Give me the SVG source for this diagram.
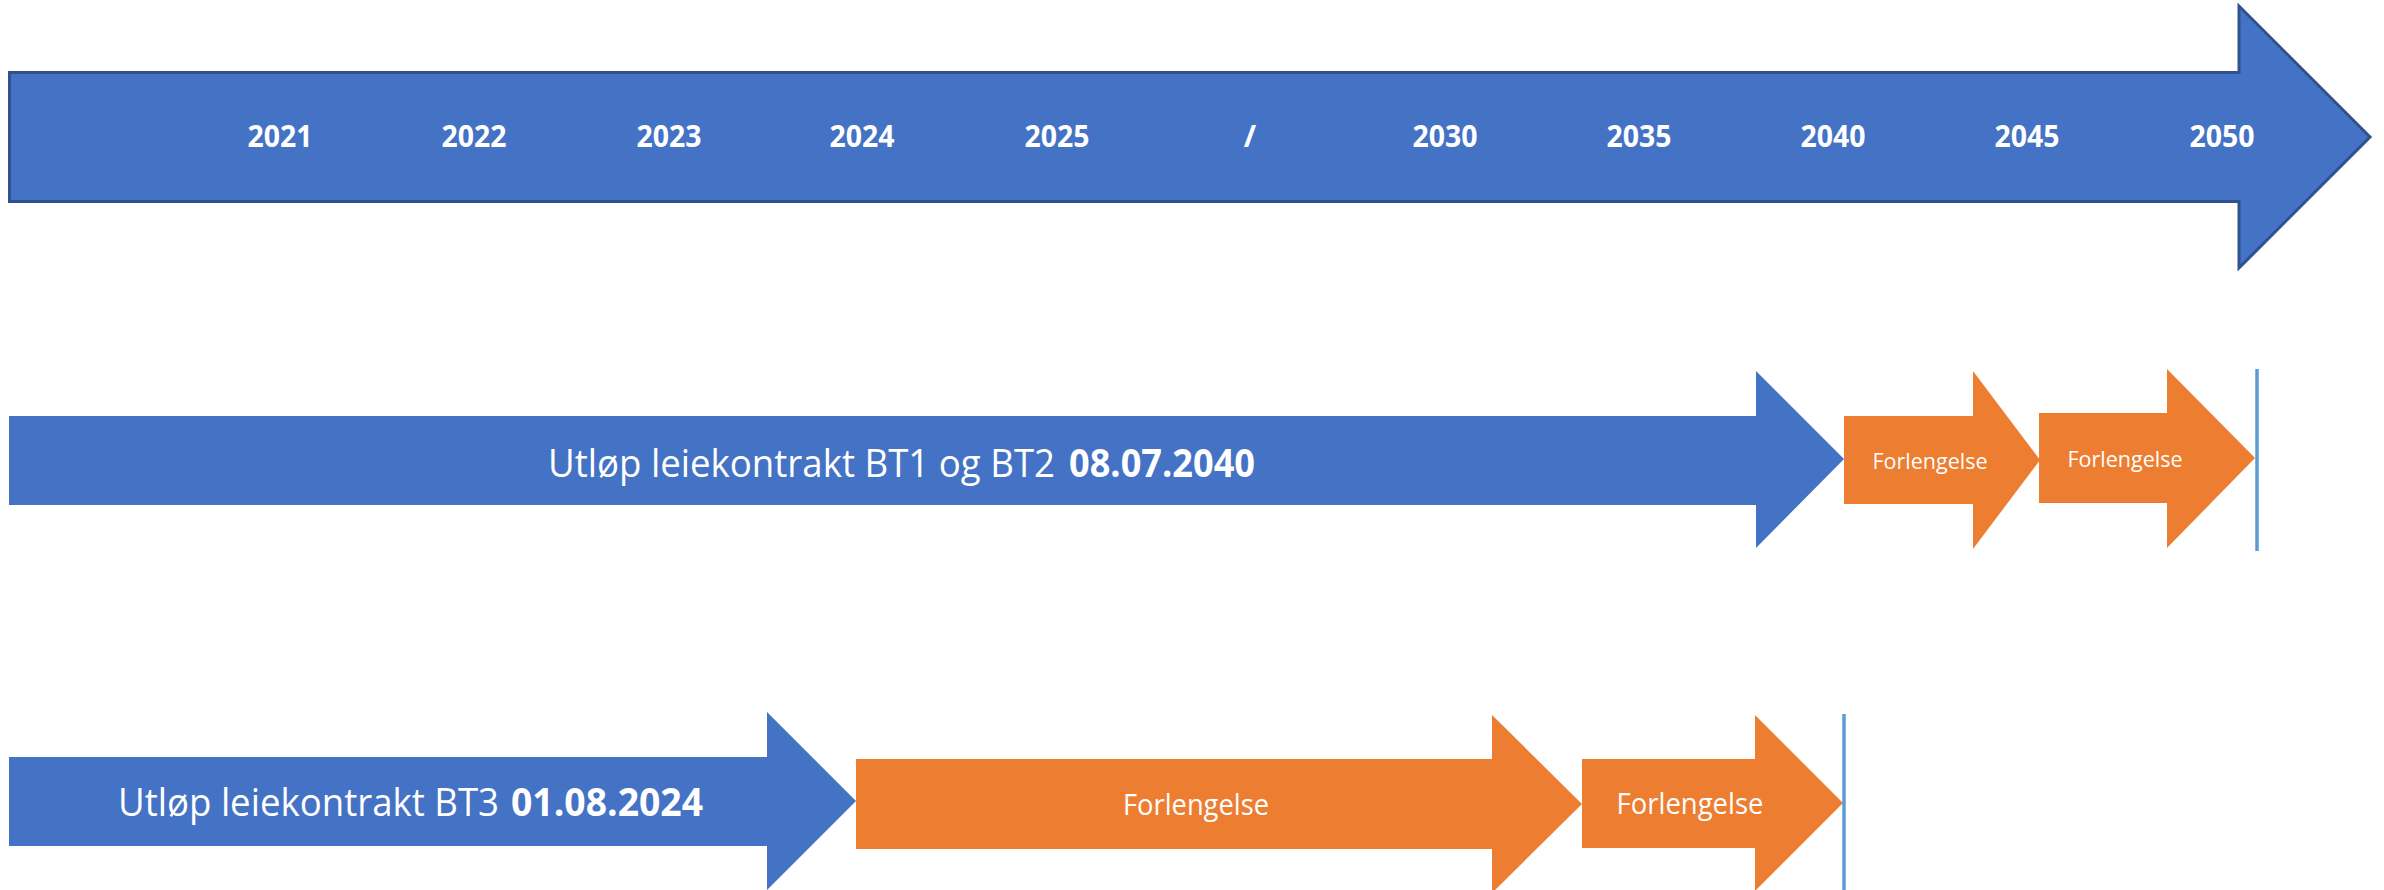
<svg xmlns="http://www.w3.org/2000/svg" width="2384" height="890" viewBox="0 0 2384 890">
  <style>
    .blue { fill: #4472C4; }
    .orange { fill: #ED7D31; }
    .timeline { fill: #4472C4; stroke: #2F528F; stroke-width: 3; }
    .year { font-family: "Open Sans", "Liberation Sans", sans-serif; font-weight: 700; font-size: 30px; fill: #FFFFFF; text-anchor: middle; }
    .lbl { font-family: "Open Sans", "Liberation Sans", sans-serif; font-weight: 400; font-size: 39px; fill: #FFFFFF; }
    .lblb { font-family: "Open Sans", "Liberation Sans", sans-serif; font-weight: 700; font-size: 39px; fill: #FFFFFF; }
    .ext { font-family: "Open Sans", "Liberation Sans", sans-serif; font-weight: 400; fill: #FFFFFF; text-anchor: middle; }
    .mark { stroke: #5B9BD5; stroke-width: 3.5; fill: none; }
  </style>
  <rect width="2384" height="890" fill="#FFFFFF"/>

  <g id="timeline">
    <path class="timeline" d="M9.5,72.5 L2239,72.5 L2239,6 L2370,137 L2239,268 L2239,201.5 L9.5,201.5 Z"/>
    <text class="year" x="280" y="147" textLength="65" lengthAdjust="spacingAndGlyphs">2021</text>
    <text class="year" x="474" y="147" textLength="65" lengthAdjust="spacingAndGlyphs">2022</text>
    <text class="year" x="669" y="147" textLength="65" lengthAdjust="spacingAndGlyphs">2023</text>
    <text class="year" x="862" y="147" textLength="65" lengthAdjust="spacingAndGlyphs">2024</text>
    <text class="year" x="1057" y="147" textLength="65" lengthAdjust="spacingAndGlyphs">2025</text>
    <text class="year" x="1250" y="147">/</text>
    <text class="year" x="1445" y="147" textLength="65" lengthAdjust="spacingAndGlyphs">2030</text>
    <text class="year" x="1639" y="147" textLength="65" lengthAdjust="spacingAndGlyphs">2035</text>
    <text class="year" x="1833" y="147" textLength="65" lengthAdjust="spacingAndGlyphs">2040</text>
    <text class="year" x="2027" y="147" textLength="65" lengthAdjust="spacingAndGlyphs">2045</text>
    <text class="year" x="2222" y="147" textLength="65" lengthAdjust="spacingAndGlyphs">2050</text>
  </g>

  <g id="bt12">
    <path class="blue" d="M9,416 L1756,416 L1756,371 L1844,459 L1756,548 L1756,505 L9,505 Z"/>
    <text class="lbl" x="548" y="477" textLength="507" lengthAdjust="spacingAndGlyphs">Utløp leiekontrakt BT1 og BT2</text>
    <text class="lblb" x="1069" y="477" textLength="186" lengthAdjust="spacingAndGlyphs">08.07.2040</text>
  </g>
  <g id="bt12-ext1">
    <path class="orange" d="M1844,416 L1973,416 L1973,371 L2040,460 L1973,549 L1973,504 L1844,504 Z"/>
    <text class="ext" x="1930" y="469" font-size="22" textLength="115" lengthAdjust="spacingAndGlyphs">Forlengelse</text>
  </g>
  <g id="bt12-ext2">
    <path class="orange" d="M2039,413 L2167,413 L2167,369 L2255,458 L2167,548 L2167,503 L2039,503 Z"/>
    <text class="ext" x="2125" y="467" font-size="22" textLength="115" lengthAdjust="spacingAndGlyphs">Forlengelse</text>
  </g>

  <g id="bt3">
    <path class="blue" d="M9,757 L767,757 L767,712 L856,801 L767,890 L767,846 L9,846 Z"/>
    <text class="lbl" x="118" y="816" textLength="381" lengthAdjust="spacingAndGlyphs">Utløp leiekontrakt BT3</text>
    <text class="lblb" x="511" y="816" textLength="192" lengthAdjust="spacingAndGlyphs">01.08.2024</text>
  </g>
  <g id="bt3-ext1">
    <path class="orange" d="M856,759 L1492,759 L1492,715 L1582,804 L1492,893 L1492,849 L856,849 Z"/>
    <text class="ext" x="1196" y="815" font-size="29" textLength="146" lengthAdjust="spacingAndGlyphs">Forlengelse</text>
  </g>
  <g id="bt3-ext2">
    <path class="orange" d="M1582,759 L1755,759 L1755,715 L1843,803 L1755,891 L1755,848 L1582,848 Z"/>
    <text class="ext" x="1690" y="814" font-size="29" textLength="147" lengthAdjust="spacingAndGlyphs">Forlengelse</text>
  </g>

  <g id="connectors">
    <line class="mark" x1="2257" y1="369" x2="2257" y2="551"/>
    <line class="mark" x1="1844" y1="714" x2="1844" y2="890"/>
  </g>
</svg>
